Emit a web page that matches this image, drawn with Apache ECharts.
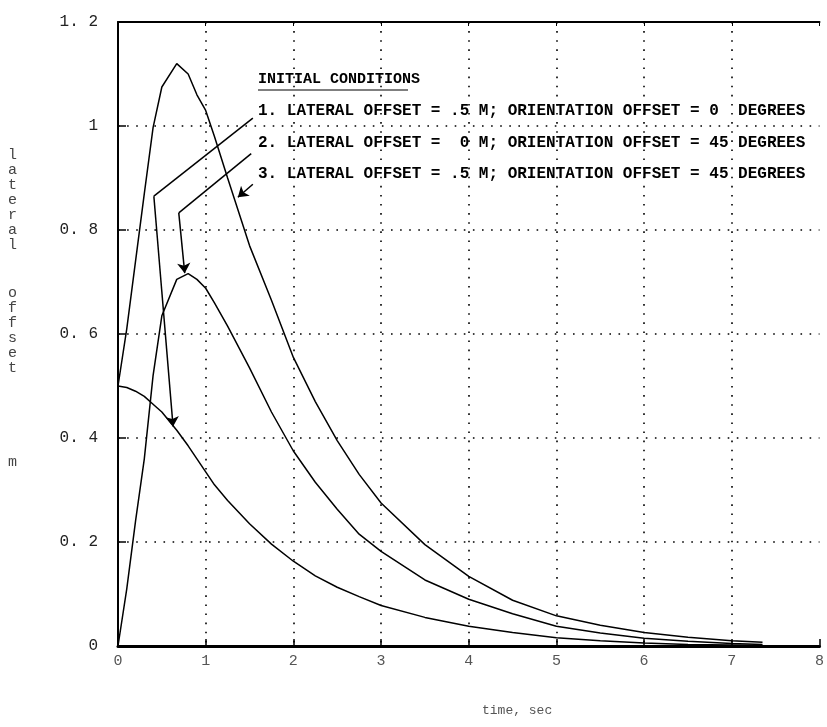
<!DOCTYPE html>
<html>
<head>
<meta charset="utf-8">
<script src="https://cdn.jsdelivr.net/npm/echarts@6/dist/echarts.min.js"></script>
<style>html,body{margin:0;padding:0;background:#fff;}#c{width:827px;height:727px;}</style>
</head>
<body>
<div id="c"></div>
<script>
// ---- data ----
const times = [0, 0.1, 0.2, 0.3, 0.4, 0.5, 0.67, 0.8, 0.9, 1.0, 1.1, 1.25, 1.5, 1.75, 2.0, 2.25, 2.5, 2.75, 3.0, 3.5, 4.0, 4.5, 5.0, 5.5, 6.0, 6.5, 7.0, 7.35];
// 1. lateral offset = .5 m, orientation offset = 0 deg
const case1 = [0.50, 0.497, 0.49, 0.48, 0.465, 0.45, 0.415, 0.385, 0.36, 0.335, 0.31, 0.28, 0.235, 0.196, 0.163, 0.135, 0.113, 0.095, 0.078, 0.055, 0.038, 0.026, 0.016, 0.010, 0.006, 0.003, 0.002, 0.001];
// 2. lateral offset = 0 m, orientation offset = 45 deg
const case2 = [0.0, 0.11, 0.24, 0.36, 0.52, 0.635, 0.705, 0.716, 0.705, 0.688, 0.66, 0.615, 0.535, 0.45, 0.375, 0.315, 0.263, 0.215, 0.182, 0.127, 0.09, 0.062, 0.038, 0.025, 0.015, 0.009, 0.005, 0.003];
// 3. lateral offset = .5 m, orientation offset = 45 deg
const case3 = [0.50, 0.61, 0.74, 0.87, 0.997, 1.075, 1.12, 1.10, 1.06, 1.03, 0.98, 0.90, 0.77, 0.665, 0.555, 0.47, 0.395, 0.33, 0.275, 0.195, 0.134, 0.088, 0.058, 0.040, 0.026, 0.017, 0.010, 0.007];

const xTicks = ['0','1','2','3','4','5','6','7','8'];
const yTicks = ['0','0. 2','0. 4','0. 6','0. 8','1','1. 2'];

const legendTitle = 'INITIAL CONDITIONS';
const legendLines = [
  '1. LATERAL OFFSET = .5 M; ORIENTATION OFFSET = 0  DEGREES',
  '2. LATERAL OFFSET =  0 M; ORIENTATION OFFSET = 45 DEGREES',
  '3. LATERAL OFFSET = .5 M; ORIENTATION OFFSET = 45 DEGREES'
];
// annotation arrows (data coordinates): leader polyline, then final segment with arrow head
const arrow1 = [[1.538, 1.015], [0.409, 0.865], [0.628, 0.422]];
const arrow2 = [[1.519, 0.947], [0.693, 0.833], [0.761, 0.717]];
const arrow3 = [[1.538, 0.888], [1.367, 0.863]];

const yTitleWords = ['lateral', 'offset', 'm'];
const xTitle = 'time, sec';

// ---- chart ----
const pair = (vals) => times.map((t, i) => [t, vals[i]]);
const lineSeries = (name, vals) => ({
  name, type: 'line', data: pair(vals), showSymbol: false, smooth: false,
  lineStyle: { color: '#000', width: 1.5 }, animation: false, z: 3
});
const arrows = [arrow1, arrow2, arrow3];
const leaderSegs = [];
const headSegs = [];
arrows.forEach(a => {
  for (let i = 0; i < a.length - 2; i++) leaderSegs.push({ coords: [a[i], a[i + 1]] });
  headSegs.push({ coords: [a[a.length - 2], a[a.length - 1]] });
});

const chart = echarts.init(document.getElementById('c'), null, { renderer: 'canvas' });

const g = [];
g.push({
  type: 'text', left: 258, top: 72,
  style: { text: legendTitle, font: 'bold 15px "Liberation Mono"', fill: '#000' }
});
g.push({
  type: 'line', shape: { x1: 258, y1: 90, x2: 408, y2: 90 },
  style: { stroke: '#000', lineWidth: 1.2 }
});
legendLines.forEach((s, i) => {
  g.push({
    type: 'text', left: 258, top: 103 + i * 31.5,
    style: { text: s, font: 'bold 16px "Liberation Mono"', fill: '#000' }
  });
});
const yTitleTops = [148, 286, 455];
yTitleWords.forEach((w, i) => {
  g.push({
    type: 'text', left: 8, top: yTitleTops[i],
    style: { text: w.split('').join('\n'), font: '15px "Liberation Mono"', lineHeight: 15, fill: '#444' }
  });
});
g.push({
  type: 'text', left: 482, top: 704,
  style: { text: xTitle, font: '13px "Liberation Mono"', fill: '#555' }
});

const dotted = { color: '#000', width: 1.6, type: [1.6, 7.5] };

chart.setOption({
  animation: false,
  backgroundColor: '#fff',
  grid: { left: 118, right: 4, top: 22, bottom: 81, containLabel: false },
  xAxis: [{
    type: 'value', min: 0, max: 8, interval: 1, position: 'bottom',
    axisLine: { show: true, onZero: false, lineStyle: { color: '#000', width: 3 } },
    axisTick: { show: true, inside: true, length: 7, lineStyle: { color: '#000', width: 1.5 } },
    axisLabel: { fontSize: 15, color: '#555', margin: 8, fontFamily: 'Liberation Mono',
      formatter: (v) => xTicks[Math.round(v)] },
    splitLine: { show: true, showMinLine: false, showMaxLine: false, lineStyle: dotted }
  }, {
    type: 'value', min: 0, max: 8, interval: 1, position: 'top',
    axisLine: { show: true, onZero: false, lineStyle: { color: '#000', width: 2 } },
    axisTick: { show: true, inside: true, length: 4, lineStyle: { color: '#000', width: 1 } },
    axisLabel: { show: false }, splitLine: { show: false }
  }],
  yAxis: {
    type: 'value', min: 0, max: 1.2, interval: 0.2,
    axisLine: { show: true, onZero: false, lineStyle: { color: '#000', width: 2 } },
    axisTick: { show: true, inside: true, length: 8, lineStyle: { color: '#000', width: 1.5 } },
    axisLabel: { fontSize: 16, margin: 20, fontFamily: 'Liberation Mono', color: '#222',
      formatter: (v) => yTicks[Math.round(v / 0.2)] },
    splitLine: { show: true, showMinLine: false, showMaxLine: false, lineStyle: dotted }
  },
  graphic: g,
  series: [
    lineSeries('case1', case1),
    lineSeries('case2', case2),
    lineSeries('case3', case3),
    {
      type: 'lines', coordinateSystem: 'cartesian2d',
      symbol: ['none', 'none'],
      lineStyle: { color: '#000', width: 1.5, opacity: 1, curveness: 0 },
      data: leaderSegs, z: 4, animation: false
    },
    {
      type: 'lines', coordinateSystem: 'cartesian2d',
      symbol: ['none', 'arrow'], symbolSize: 10,
      lineStyle: { color: '#000', width: 1.5, opacity: 1, curveness: 0 },
      data: headSegs, z: 4, animation: false
    }
  ]
});
</script>
</body>
</html>
